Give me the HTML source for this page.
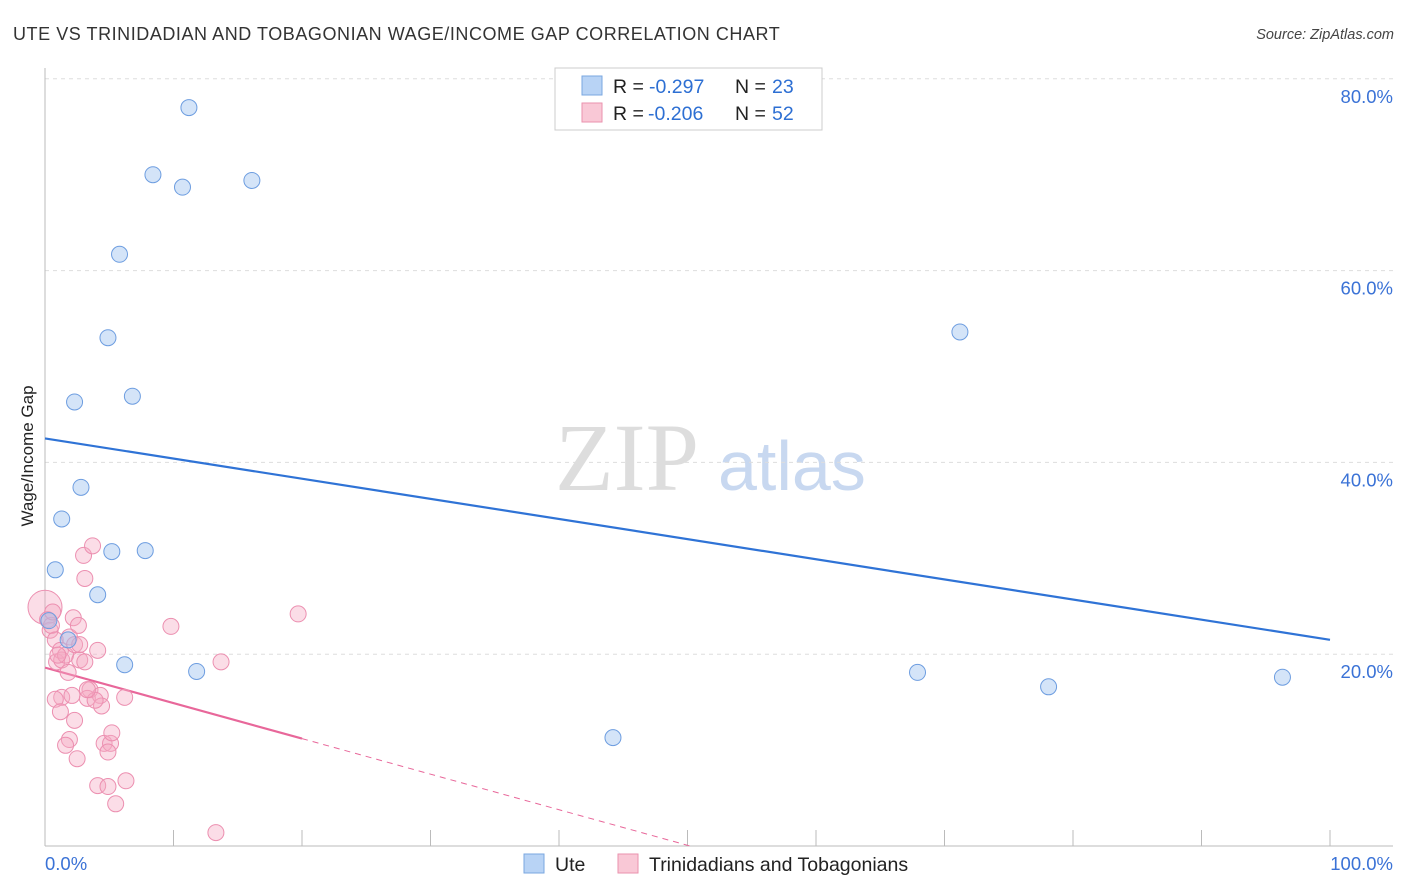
<!DOCTYPE html>
<html><head><meta charset="utf-8"><style>
body{margin:0;background:#fff;font-family:"Liberation Sans",sans-serif}
svg{display:block}
</style></head><body>
<svg id="chart" width="1406" height="892" xmlns="http://www.w3.org/2000/svg">
<text x="13" y="40" font-size="18" letter-spacing="0.55" fill="#333">UTE VS TRINIDADIAN AND TOBAGONIAN WAGE/INCOME GAP CORRELATION CHART</text>
<text x="1394" y="39" font-size="14.5" fill="#444" font-style="italic" text-anchor="end">Source: ZipAtlas.com</text>
<g>
<text x="555" y="490" font-family="Liberation Serif,serif" font-size="96" fill="#ddd">ZIP</text>
<text x="718" y="490" font-size="70" fill="#c8d8f0">atlas</text>
</g>
<g id="grid"></g>
<g id="axes"></g>
<g id="lines"></g>
<g id="pts"></g>
<text transform="translate(33,456) rotate(-90)" font-size="17" fill="#222" text-anchor="middle">Wage/Income Gap</text>
<g>
<rect x="555" y="68" width="267" height="62" fill="#fff" stroke="#ccc"/>
<rect x="582" y="76" width="20" height="19" fill="#b8d3f5" stroke="#7aa7e0"/>
<rect x="582" y="103" width="20" height="19" fill="#f9c8d6" stroke="#ea92ae"/>
<text x="613" y="93" font-size="19.5" fill="#222">R =</text>
<text x="649" y="93" font-size="19.5" fill="#2d6fd3">-0.297</text>
<text x="735" y="93" font-size="19.5" fill="#222">N =</text>
<text x="772" y="93" font-size="19.5" fill="#2d6fd3">23</text>
<text x="613" y="120" font-size="19.5" fill="#222">R =</text>
<text x="648" y="120" font-size="19.5" fill="#2d6fd3">-0.206</text>
<text x="735" y="120" font-size="19.5" fill="#222">N =</text>
<text x="772" y="120" font-size="19.5" fill="#2d6fd3">52</text>
</g>
<g>
<rect x="524" y="854" width="20" height="19" fill="#b8d3f5" stroke="#7aa7e0"/>
<text x="555" y="871" font-size="19.5" fill="#222">Ute</text>
<rect x="618" y="854" width="20" height="19" fill="#f9c8d6" stroke="#ea92ae"/>
<text x="649" y="871" font-size="19.5" fill="#222">Trinidadians and Tobagonians</text>
</g>
</svg>
<script>
const yTicks=[20,40,60,80];
const yTickLabels=["20.0%","40.0%","60.0%","80.0%"];
const xTicks=[0,10,20,30,40,50,60,70,80,90,100];
const uteX=[11.2,8.4,10.7,16.1,5.8,4.9,2.3,6.8,2.8,1.3,5.2,7.8,0.8,4.1,1.8,6.2,11.8,71.2,67.9,78.1,96.3,44.2,0.3];
const uteY=[77.0,70.0,68.7,69.4,61.7,53.0,46.3,46.9,37.4,34.1,30.7,30.8,28.8,26.2,21.5,18.9,18.2,53.6,18.1,16.6,17.6,11.3,23.5];
const triX=[0,0.2,0.4,0.5,0.8,0.9,1.2,1.3,1.6,1.8,1.9,2.2,2.3,2.6,2.7,3.0,3.1,3.7,4.1,2.7,1.3,0.8,1.2,2.1,2.3,3.5,3.3,4.3,4.4,6.2,1.9,1.6,2.5,4.6,5.1,5.2,4.9,4.1,4.9,5.5,6.3,9.8,13.7,19.7,13.3,0.6,1.0,3.1,3.9,3.3];
const triY=[24.9,23.6,22.5,23.0,21.5,19.2,20.4,19.4,19.9,18.1,21.8,23.8,21.0,23.0,19.4,30.3,27.9,31.3,20.4,21.0,15.5,15.3,14.0,15.7,13.1,16.3,15.4,15.7,14.6,15.5,11.1,10.5,9.1,10.7,10.7,11.8,9.8,6.3,6.2,4.4,6.8,22.9,19.2,24.2,1.4,24.4,19.9,19.2,15.2,16.3];
const uteTrend=[42.5,21.5];
const triTrend=[18.6,11.2];
const triTrendEndX=20, triZeroX=50.2;
const NS="http://www.w3.org/2000/svg";
const X=v=>45+v*12.85, Y=v=>846-v*9.59;
function mk(tag,attrs,parent){const e=document.createElementNS(NS,tag);for(const k in attrs)e.setAttribute(k,attrs[k]);parent.appendChild(e);return e;}
const grid=document.getElementById('grid'),axes=document.getElementById('axes'),lines=document.getElementById('lines'),pts=document.getElementById('pts');
yTicks.forEach((t,i)=>{
 const l=mk('line',{x1:45,x2:1393,y1:Y(t),y2:Y(t),stroke:'#ddd','stroke-dasharray':'4,4'},grid);
 
 
 const tx=mk('text',{x:1393,y:Y(t)+24,'font-size':18.5,fill:'#3a72d6','text-anchor':'end'},axes);
 tx.textContent=yTickLabels[i];
 
 
});
mk('line',{x1:45,x2:45,y1:68,y2:846,stroke:'#bbb'},axes);
mk('line',{x1:45,x2:1393,y1:846,y2:846,stroke:'#bbb'},axes);
xTicks.forEach(t=>{
 const l=mk('line',{x1:X(t),x2:X(t),y1:846,y2:830,stroke:'#bbb'},axes);
 
 
});
const x0=mk('text',{x:45,y:870,'font-size':18.5,fill:'#3a72d6'},axes);x0.textContent='0.0%';


const x1=mk('text',{x:1393,y:870,'font-size':18.5,fill:'#3a72d6','text-anchor':'end'},axes);x1.textContent='100.0%';


triX.forEach((v,i)=>{
 const c=mk('circle',{cx:X(v),cy:Y(triY[i]),r:i===0?17:8,fill:'rgba(246,170,195,0.4)',stroke:'#ec8fb0','stroke-width':1},pts);
 
 
});
uteX.forEach((v,i)=>{
 const c=mk('circle',{cx:X(v),cy:Y(uteY[i]),r:8,fill:'rgba(160,196,240,0.45)',stroke:'#6d9de0','stroke-width':1},pts);
 
 
});
const ul=mk('line',{x1:X(0),y1:Y(uteTrend[0]),x2:X(100),y2:Y(uteTrend[1]),stroke:'#2f73d6','stroke-width':2.2},lines);


const tl=mk('line',{x1:X(0),y1:Y(triTrend[0]),x2:X(triTrendEndX),y2:Y(triTrend[1]),stroke:'#e8679a','stroke-width':2.2},lines);


const td=mk('line',{x1:X(triTrendEndX),y1:Y(triTrend[1]),x2:X(triZeroX),y2:Y(0),stroke:'#e8679a','stroke-width':1,'stroke-dasharray':'6,5'},lines);


</script>
</body></html>
